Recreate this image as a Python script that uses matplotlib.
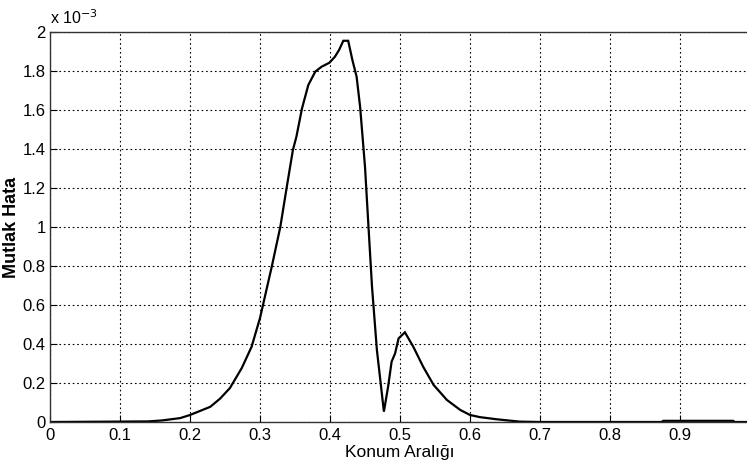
import matplotlib
matplotlib.use("Agg")
import matplotlib.pyplot as plt
import numpy as np

# Absolute error along the position interval (values in units of 1e-3)
position = [0.0, 0.14, 0.16, 0.186, 0.2, 0.229, 0.243, 0.257, 0.274, 0.288,
            0.3, 0.317, 0.329, 0.338, 0.347, 0.352, 0.36, 0.369, 0.379, 0.388,
            0.399, 0.407, 0.413, 0.419, 0.426, 0.432, 0.438, 0.443, 0.45, 0.455,
            0.46, 0.467, 0.477, 0.483, 0.488, 0.493, 0.498, 0.507, 0.519, 0.533,
            0.548, 0.567, 0.586, 0.6, 0.614, 0.638, 0.657, 0.671, 0.7, 0.874,
            0.876, 0.976, 0.978, 1.0]
abs_error = [0.0, 0.003, 0.008, 0.02, 0.036, 0.078, 0.12, 0.174, 0.277, 0.386,
             0.533, 0.80, 1.0, 1.2, 1.395, 1.463, 1.608, 1.728, 1.797, 1.822,
             1.842, 1.873, 1.908, 1.955, 1.955, 1.856, 1.771, 1.617, 1.309, 1.0,
             0.694, 0.369, 0.053, 0.181, 0.309, 0.352, 0.429, 0.46, 0.386, 0.284,
             0.19, 0.113, 0.062, 0.036, 0.025, 0.014, 0.007, 0.002, 0.0, 0.0,
             0.006, 0.006, 0.0, 0.0]

x_ticks = [0, 0.1, 0.2, 0.3, 0.4, 0.5, 0.6, 0.7, 0.8, 0.9, 1]
y_ticks = [0, 0.2, 0.4, 0.6, 0.8, 1, 1.2, 1.4, 1.6, 1.8, 2]

plt.rcParams["font.family"] = ["Liberation Sans", "DejaVu Sans"]

fig = plt.figure(figsize=(7.47, 4.74), dpi=100)
ax = fig.add_axes([50 / 747, 52 / 474, 700 / 747, 390 / 474])

ax.plot(position, abs_error, color="black", lw=1.6, solid_joinstyle="miter")

ax.set_xlim(0, 1)
ax.set_ylim(0, 2)
ax.set_xticks(x_ticks)
ax.set_yticks(y_ticks)
ax.set_xticklabels([f"{v:g}" for v in x_ticks])
ax.set_yticklabels([f"{v:g}" for v in y_ticks])
ax.tick_params(direction="in", length=5, width=0.8, labelsize=12, pad=4,
               top=False, right=False, colors="black")
ax.tick_params(axis="y", pad=3)
ax.grid(True, color="black", linestyle=(0, (1.5, 2.5)), linewidth=0.8)

for s in ax.spines.values():
    s.set_linewidth(1.0)
    s.set_color("#333333")

ax.set_xlabel("Konum Aralığı", fontsize=12.5, labelpad=2)
ax.set_ylabel("Mutlak Hata", fontsize=13, fontweight="bold")
ax.yaxis.set_label_coords(-0.043, 0.5)

ax.text(0.0, 1.012, r"x 10$^{-3}$", transform=ax.transAxes, fontsize=11.5,
        ha="left", va="bottom")

fig.savefig("out.png", dpi=100, facecolor="white")
